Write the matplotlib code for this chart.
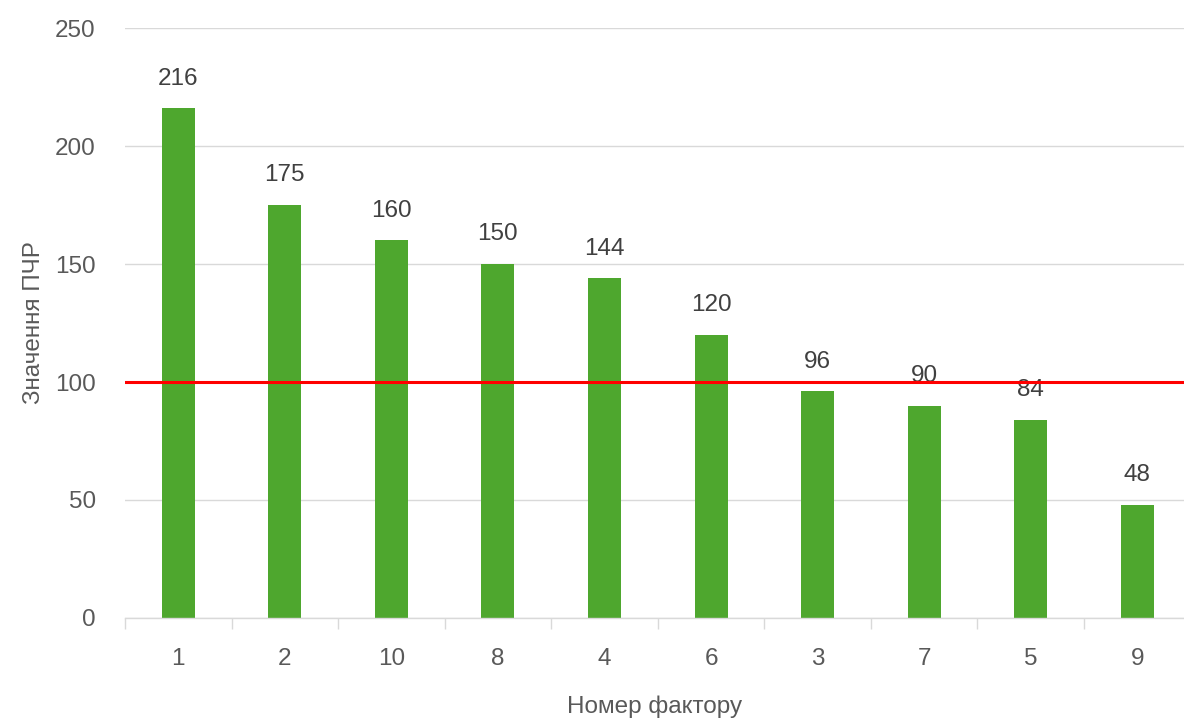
import matplotlib
matplotlib.use("Agg")
import matplotlib.pyplot as plt

categories = ["1", "2", "10", "8", "4", "6", "3", "7", "5", "9"]
values = [216, 175, 160, 150, 144, 120, 96, 90, 84, 48]
threshold = 100
y_ticks = [0, 50, 100, 150, 200, 250]

plt.rcParams['font.family'] = ['Liberation Sans', 'DejaVu Sans']

W, H = 1184, 720
fig = plt.figure(figsize=(W/100, H/100), dpi=100)
ax = fig.add_axes([125/W, (H-618)/H, (W-125)/W, 590/H])

x = list(range(len(categories)))
ax.bar(x, values, width=0.31, color="#4EA72E", zorder=2)
ax.set_xlim(-0.5, 9.5 - 6.5/106.5)
ax.set_ylim(0, 250)
ax.set_yticks(y_ticks)
ax.yaxis.grid(True, color="#D9D9D9", linewidth=1.0, zorder=0)
ax.set_axisbelow(True)

for s in ["top", "right", "left"]:
    ax.spines[s].set_visible(False)
ax.spines["bottom"].set_color("#D9D9D9")
ax.spines["bottom"].set_linewidth(1.0)

fs = 17.5
ax.set_xticks(x)
ax.set_xticklabels(categories)
ax.tick_params(axis="x", length=0, pad=21.5, labelsize=fs, labelcolor="#595959")
ax.tick_params(axis="y", length=0, pad=21, labelsize=fs, labelcolor="#595959")
ax.set_xticks([i - 0.5 for i in range(len(categories))], minor=True)
ax.tick_params(axis="x", which="minor", length=8, color="#D9D9D9", width=1)

for xi, v in zip(x, values):
    ax.annotate(str(v), (xi, v), xytext=(0, 17), textcoords="offset points",
                ha="center", va="baseline", fontsize=fs, color="#404040", zorder=3)

ax.axhline(threshold, color="#FF0000", linewidth=2.2, zorder=5)

ax.set_xlabel("Номер фактору", fontsize=fs, color="#595959", labelpad=18.5)
ax.set_ylabel("Значення ПЧР", fontsize=fs, color="#595959", labelpad=7)

fig.savefig("out.png", dpi=100)
